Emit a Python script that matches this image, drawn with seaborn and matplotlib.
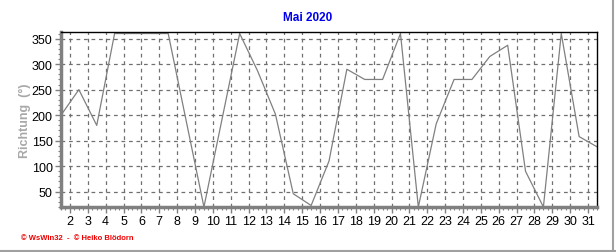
import matplotlib
matplotlib.use("Agg")
import matplotlib.pyplot as plt
from matplotlib.ticker import MultipleLocator
from matplotlib.lines import Line2D
import seaborn as sns
import pandas as pd
import numpy as np

# Data: wind direction (°), one value per day of May 2020
days = list(range(1, 32))
richtung = [200, 250, 180, 360, 360, 360, 360, 190, 20, 190,
            360, 287, 202, 46, 23, 110, 290, 270, 270, 360,
            20, 183, 270, 270, 315, 337, 90, 20, 360, 158, 138]
tick_days = list(range(2, 32))
y_ticks = [50, 100, 150, 200, 250, 300, 350]

df = pd.DataFrame({"pos": [d + 0.5 for d in days], "Richtung": richtung})

sns.set_theme(style="white")
plt.rcParams['font.family'] = ['Liberation Sans', 'DejaVu Sans']

fig = plt.figure(figsize=(6.16, 2.53), dpi=100)
ax = fig.add_axes([61/616, 1-208/253, (597-61)/616, (208-33)/253])

sns.lineplot(data=df, x="pos", y="Richtung", ax=ax, color="#808080",
             linewidth=0.9, legend=False)

ax.set_xlim(1.5, 31.5)
ax.set_ylim(20, 363)
ax.set_xticks(tick_days)
ax.set_xticklabels([str(d) for d in tick_days], fontsize=9, color="black")
ax.set_yticks(y_ticks)
ax.set_yticklabels([str(v) for v in y_ticks], fontsize=9, color="black")
ax.xaxis.set_minor_locator(MultipleLocator(0.25))
ax.yaxis.set_minor_locator(MultipleLocator(10))

ax.grid(True, which="major", color="#707070", linestyle=(0, (3, 3)), linewidth=0.9)
ax.tick_params(axis="x", which="major", direction="out", length=4, width=1,
               color="#808080", pad=2, bottom=True)
ax.tick_params(axis="x", which="minor", direction="out", length=2, width=0.8,
               color="#808080", bottom=True)
ax.tick_params(axis="y", which="major", direction="out", length=4, width=1,
               color="#808080", pad=2, left=True)
ax.tick_params(axis="y", which="minor", direction="out", length=2, width=0.8,
               color="#808080", left=True)

for s in ["top", "right"]:
    ax.spines[s].set_color("black")
    ax.spines[s].set_linewidth(1.0)
for s in ["left", "bottom"]:
    ax.spines[s].set_color("#808080")
    ax.spines[s].set_linewidth(2.5)

ax.set_xlabel("")
ax.set_ylabel("Richtung  (°)", fontsize=9, fontweight="bold", color="#a8a8a8")
ax.yaxis.set_label_coords(-0.056, 0.5)

fig.text(308/616, 1-18/253, "Mai 2020", ha="center", va="center",
         fontsize=8.5, fontweight="bold", color="#0000ee")
fig.text(21/616, 1-239/253, "© WsWin32  -  © Heiko Blödorn", ha="left",
         va="center", fontsize=5.5, fontweight="bold", color="#ee0000")

# outer frame lines (right and bottom) of the picture
fig.add_artist(Line2D([0, 1], [1/253, 1/253], transform=fig.transFigure,
                      color="#a0a0a0", linewidth=1.5))
fig.add_artist(Line2D([613/616, 613/616], [0, 1], transform=fig.transFigure,
                      color="#a0a0a0", linewidth=1.5))

fig.savefig("out.png", dpi=100)
